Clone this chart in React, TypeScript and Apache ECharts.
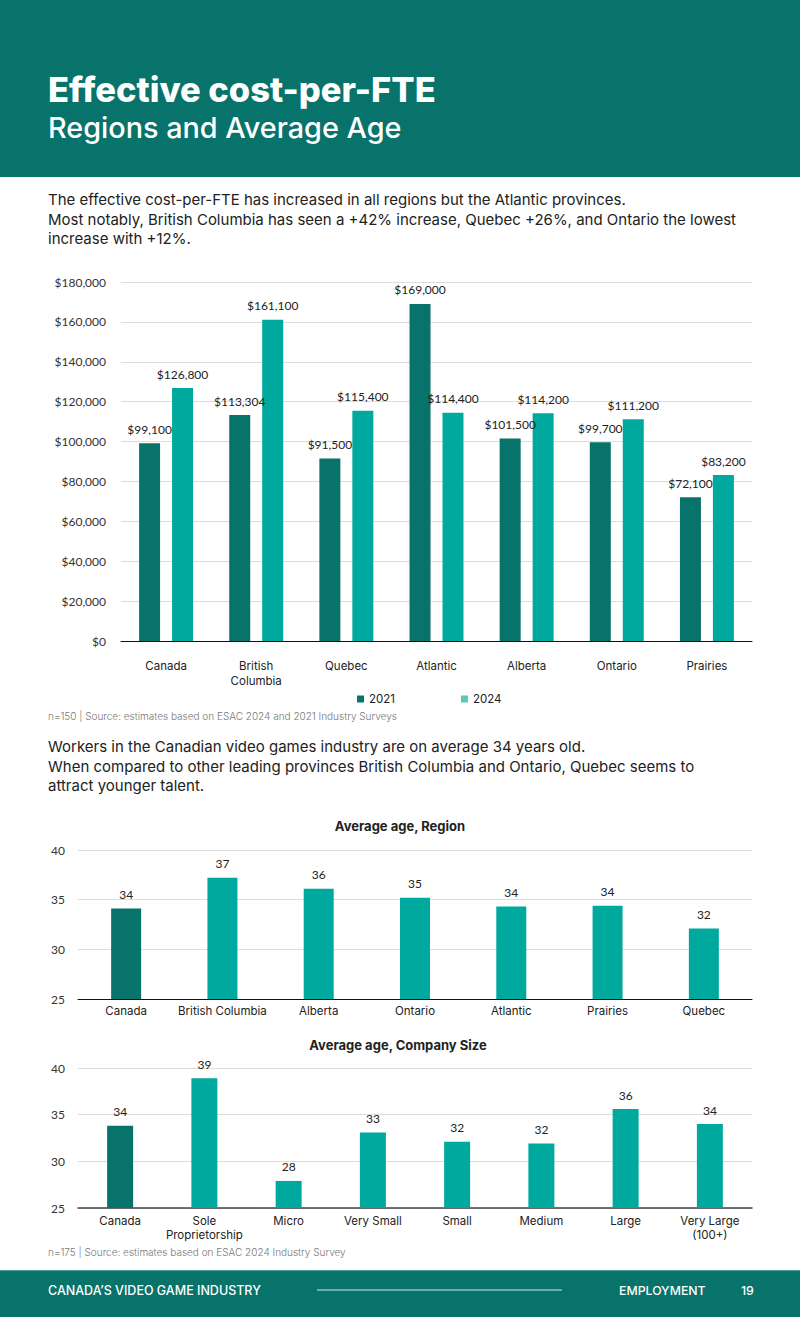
import React, { useEffect, useRef } from "react";
import * as echarts from "echarts";

const regions = ["Canada", "British\nColumbia", "Quebec", "Atlantic", "Alberta", "Ontario", "Prairies"];
const cost2021 = [99100, 113304, 91500, 169000, 101500, 99700, 72100];
const cost2024 = [126800, 161100, 115400, 114400, 114200, 111200, 83200];

const ageRegions = ["Canada", "British Columbia", "Alberta", "Ontario", "Atlantic", "Prairies", "Quebec"];
const ageRegionValues = [34.1, 37.2, 36.1, 35.2, 34.3, 34.4, 32.1];

const sizes = ["Canada", "Sole\nProprietorship", "Micro", "Very Small", "Small", "Medium", "Large", "Very Large\n(100+)"];
const ageSizeValues = [33.8, 38.9, 27.9, 33.1, 32.1, 31.9, 35.6, 34.0];

const DARK = "#07736b";
const LIGHT = "#00a99d";
const TEXT = "#222222";
const CHART_FONT = "Lato";
const BODY_FONT = "Inter";

const money = (v: number) => "$" + v.toLocaleString("en-US");

export default function App() {
  const ref = useRef<HTMLDivElement>(null);
  useEffect(() => {
    if (!ref.current) return;
    const chart = echarts.init(ref.current, null, { renderer: "svg" });
    const ageItems = (vals: number[]) =>
      vals.map((v, i) => ({ value: v, itemStyle: { color: i === 0 ? DARK : LIGHT } }));
    const axisLabel = { fontFamily: CHART_FONT, fontSize: 12, color: "#333" };
    const catLabel = { fontFamily: BODY_FONT, fontSize: 11.5, color: TEXT };
    const splitLine = { show: true, lineStyle: { color: "#dcdcdc", width: 1 } };
    const para = (text: string, y: number) => ({
      type: "text",
      left: 48,
      top: y,
      style: { text, font: `400 15px ${BODY_FONT}`, fill: TEXT, lineHeight: 19.5 },
    });
    const dataLabel = {
      show: true,
      position: "top",
      distance: 8,
      fontFamily: CHART_FONT,
      fontSize: 12,
      color: TEXT,
    };
    chart.setOption({
      animation: false,
      backgroundColor: "#ffffff",
      grid: [
        { left: 121, top: 282, width: 631, height: 359 },
        { left: 78, top: 850, width: 674, height: 149 },
        { left: 78, top: 1068, width: 674, height: 140 },
      ],
      legend: {
        left: 352,
        top: 688,
        itemWidth: 7,
        itemHeight: 7,
        itemGap: 66,
        icon: "rect",
        textStyle: { fontFamily: BODY_FONT, fontSize: 11.5, color: TEXT },
        data: [
          { name: "2021", itemStyle: { color: DARK } },
          { name: "2024", itemStyle: { color: "#5cc9b5" } },
        ],
      },
      xAxis: [
        {
          gridIndex: 0,
          type: "category",
          data: regions,
          axisTick: { show: false },
          axisLine: { lineStyle: { color: "#111", width: 1 } },
          axisLabel: { ...catLabel, margin: 17, lineHeight: 15 },
        },
        {
          gridIndex: 1,
          type: "category",
          data: ageRegions,
          axisTick: { show: false },
          axisLine: { lineStyle: { color: "#111", width: 1 } },
          axisLabel: { ...catLabel, margin: 6, interval: 0 },
        },
        {
          gridIndex: 2,
          type: "category",
          data: sizes,
          axisTick: { show: false },
          axisLine: { lineStyle: { color: "#444", width: 1.5 } },
          axisLabel: { ...catLabel, margin: 6, interval: 0, lineHeight: 14 },
        },
      ],
      yAxis: [
        {
          gridIndex: 0,
          type: "value",
          min: 0,
          max: 180000,
          interval: 20000,
          axisLabel: { ...axisLabel, margin: 15, formatter: (v: number) => money(v) },
          splitLine,
        },
        {
          gridIndex: 1,
          type: "value",
          min: 25,
          max: 40,
          interval: 5,
          axisLabel: { ...axisLabel, margin: 13 },
          splitLine,
        },
        {
          gridIndex: 2,
          type: "value",
          min: 25,
          max: 40,
          interval: 5,
          axisLabel: { ...axisLabel, margin: 13 },
          splitLine,
        },
      ],
      series: [
        {
          name: "2021",
          type: "bar",
          xAxisIndex: 0,
          yAxisIndex: 0,
          data: cost2021,
          barWidth: 21,
          barGap: "57%",
          itemStyle: { color: DARK },
          label: { ...dataLabel, formatter: (p: any) => money(p.value) },
        },
        {
          name: "2024",
          type: "bar",
          xAxisIndex: 0,
          yAxisIndex: 0,
          data: cost2024,
          barWidth: 21,
          itemStyle: { color: LIGHT },
          label: { ...dataLabel, formatter: (p: any) => money(p.value) },
        },
        {
          name: "Average age, Region",
          type: "bar",
          xAxisIndex: 1,
          yAxisIndex: 1,
          data: ageItems(ageRegionValues),
          barWidth: 30,
          label: { ...dataLabel, formatter: (p: any) => String(Math.round(p.value)) },
        },
        {
          name: "Average age, Company Size",
          type: "bar",
          xAxisIndex: 2,
          yAxisIndex: 2,
          data: ageItems(ageSizeValues),
          barWidth: 26,
          label: { ...dataLabel, formatter: (p: any) => String(Math.round(p.value)) },
        },
      ],
      graphic: [
        { type: "rect", left: 0, top: 0, shape: { width: 800, height: 177 }, style: { fill: DARK } },
        {
          type: "text",
          left: 48,
          top: 72,
          style: { text: "Effective cost-per-FTE", font: `800 34.5px ${BODY_FONT}`, fill: "#ffffff" },
        },
        {
          type: "text",
          left: 48,
          top: 113,
          style: { text: "Regions and Average Age", font: `500 28.8px ${BODY_FONT}`, fill: "#ffffff" },
        },
        para(
          "The effective cost-per-FTE has increased in all regions but the Atlantic provinces.\nMost notably, British Columbia has seen a +42% increase, Quebec +26%, and Ontario the lowest\nincrease with +12%.",
          190
        ),
        {
          type: "text",
          left: 48,
          top: 711,
          style: {
            text: "n=150 | Source: estimates based on ESAC 2024 and 2021 Industry Surveys",
            font: `300 10px ${BODY_FONT}`,
            fill: "#777",
          },
        },
        para(
          "Workers in the Canadian video games industry are on average 34 years old.\nWhen compared to other leading provinces British Columbia and Ontario, Quebec seems to\nattract younger talent.",
          737
        ),
        {
          type: "text",
          x: 400,
          y: 826,
          style: {
            text: "Average age, Region",
            font: `700 13px ${BODY_FONT}`,
            fill: TEXT,
            textAlign: "center",
            textVerticalAlign: "middle",
          },
        },
        {
          type: "text",
          x: 398,
          y: 1045,
          style: {
            text: "Average age, Company Size",
            font: `700 13px ${BODY_FONT}`,
            fill: TEXT,
            textAlign: "center",
            textVerticalAlign: "middle",
          },
        },
        {
          type: "text",
          left: 48,
          top: 1247,
          style: {
            text: "n=175 | Source: estimates based on ESAC 2024 Industry Survey",
            font: `300 10px ${BODY_FONT}`,
            fill: "#777",
          },
        },
        { type: "rect", left: 0, top: 1270, shape: { width: 800, height: 47 }, style: { fill: DARK } },
        {
          type: "line",
          shape: { x1: 0, y1: 1270.5, x2: 800, y2: 1270.5 },
          style: { stroke: "#4f9f97", lineWidth: 1 },
        },
        {
          type: "text",
          x: 48,
          y: 1290,
          style: {
            text: "CANADA\u2019S VIDEO GAME INDUSTRY",
            font: `500 12.5px ${BODY_FONT}`,
            fill: "#ffffff",
            textVerticalAlign: "middle",
          },
        },
        {
          type: "line",
          shape: { x1: 317, y1: 1290, x2: 562, y2: 1290 },
          style: { stroke: "#d0e8e5", lineWidth: 1 },
        },
        {
          type: "text",
          x: 619,
          y: 1290,
          style: { text: "EMPLOYMENT", font: `500 12.3px ${BODY_FONT}`, fill: "#ffffff", textVerticalAlign: "middle" },
        },
        {
          type: "text",
          x: 741,
          y: 1290,
          style: { text: "19", font: `500 12.3px ${BODY_FONT}`, fill: "#ffffff", textVerticalAlign: "middle" },
        },
      ],
    });
    return () => chart.dispose();
  }, []);
  return (
    <div
      ref={ref}
      style={{ position: "absolute", left: 0, top: 0, width: 800, height: 1317 }}
    />
  );
}
